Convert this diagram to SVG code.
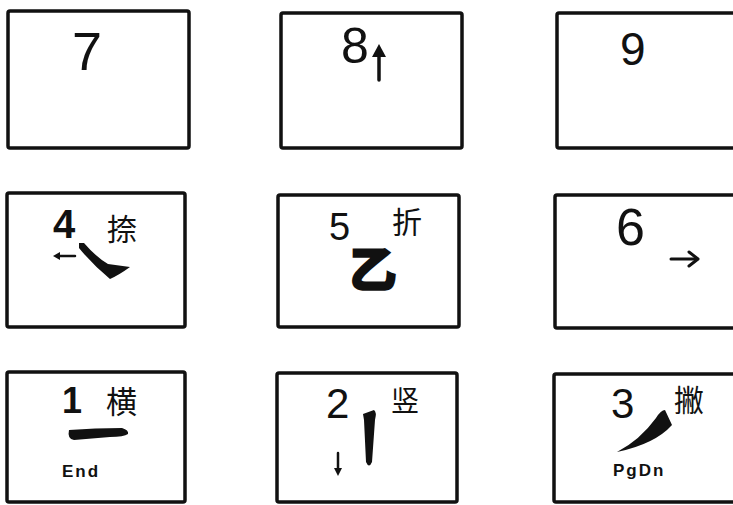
<svg xmlns="http://www.w3.org/2000/svg" width="733" height="505" viewBox="0 0 733 505">
<style>
.key{fill:#fff;stroke:#111;stroke-width:3.5}
.num{font-family:"Liberation Sans","DejaVu Sans",sans-serif;fill:#111}
.cjk{font-family:"Noto Sans CJK SC","Noto Sans CJK TC",sans-serif;fill:#111}
.lbl{font-family:"Liberation Sans","DejaVu Sans",sans-serif;font-weight:bold;fill:#111}
.ink{fill:#111}
.ln{stroke:#111;fill:none;stroke-linecap:round;stroke-linejoin:round}
</style>
<rect width="733" height="505" fill="#fff"/>
<g id="key7">
<rect class="key" x="8" y="11" width="181" height="137" rx="2"/>
<text class="num" x="72" y="70" font-size="54">7</text>
</g>
<g id="key8">
<rect class="key" x="281" y="13" width="181" height="135" rx="2"/>
<text class="num" x="341" y="63" font-size="50">8</text>
<line class="ln" x1="379" y1="80" x2="379" y2="54" stroke-width="3.5"/>
<polygon class="ink" points="372,57 379,44 386,57"/>
</g>
<g id="key9">
<rect class="key" x="557" y="13" width="190" height="135" rx="2"/>
<text class="num" x="620" y="65" font-size="46">9</text>
</g>
<g id="key4">
<rect class="key" x="7" y="193" width="178" height="134" rx="2"/>
<text class="num" x="53" y="238" font-size="40" font-weight="bold">4</text>
<text class="cjk" x="107" y="240" font-size="30">捺</text>
<line class="ln" x1="58" y1="256" x2="75" y2="256" stroke-width="2.5"/>
<polygon class="ink" points="60,252 53,256 60,260"/>
<path class="ink" d="M79,243 L84,243 Q96,257 108,264 L130,267 Q119,275 110,279 Q92,264 79,248 Z"/>
</g>
<g id="key5">
<rect class="key" x="278" y="195" width="181" height="132" rx="2"/>
<text class="num" x="329" y="240" font-size="38">5</text>
<text class="cjk" x="350" y="286" font-size="46" font-weight="bold" stroke="#111" stroke-width="3.5">乙</text>
<text class="cjk" x="392" y="233" font-size="30">折</text>
</g>
<g id="key6">
<rect class="key" x="555" y="195" width="190" height="133" rx="2"/>
<text class="num" x="616" y="245" font-size="52">6</text>
<line class="ln" x1="671" y1="259" x2="697" y2="259" stroke-width="3"/>
<polyline class="ln" points="689,252 698,259 689,266" stroke-width="3"/>
</g>
<g id="key1">
<rect class="key" x="7" y="372" width="178" height="130" rx="2"/>
<text class="num" x="62" y="413" font-size="36" font-weight="bold">1</text>
<text class="cjk" x="106" y="413" font-size="31">横</text>
<path class="ink" d="M69,430 Q95,428 122,428 Q129,430 128,434 Q124,437 110,437 L74,440 Q67,439 69,430 Z"/>
<text class="lbl" x="62" y="477" font-size="17" letter-spacing="2">End</text>
</g>
<g id="key2">
<rect class="key" x="277" y="373" width="180" height="129" rx="2"/>
<text class="num" x="326" y="418" font-size="42">2</text>
<text class="cjk" x="391" y="411" font-size="28">竖</text>
<path class="ink" d="M363,414 L374,410 Q377,412 375,420 L372,462 Q369,469 366,462 L364,420 Z"/>
<line class="ln" x1="338" y1="453" x2="338" y2="470" stroke-width="2.5"/>
<polygon class="ink" points="334,468 338,476 342,468"/>
</g>
<g id="key3">
<rect class="key" x="554" y="374" width="190" height="128" rx="2"/>
<text class="num" x="611" y="418" font-size="42">3</text>
<text class="cjk" x="674" y="411" font-size="30">撇</text>
<path class="ink" d="M656,418 Q661,410 665,410 L672,425 Q655,444 617,452 Q640,440 656,418 Z"/>
<text class="lbl" x="613" y="476" font-size="17" letter-spacing="2">PgDn</text>
</g>
</svg>
